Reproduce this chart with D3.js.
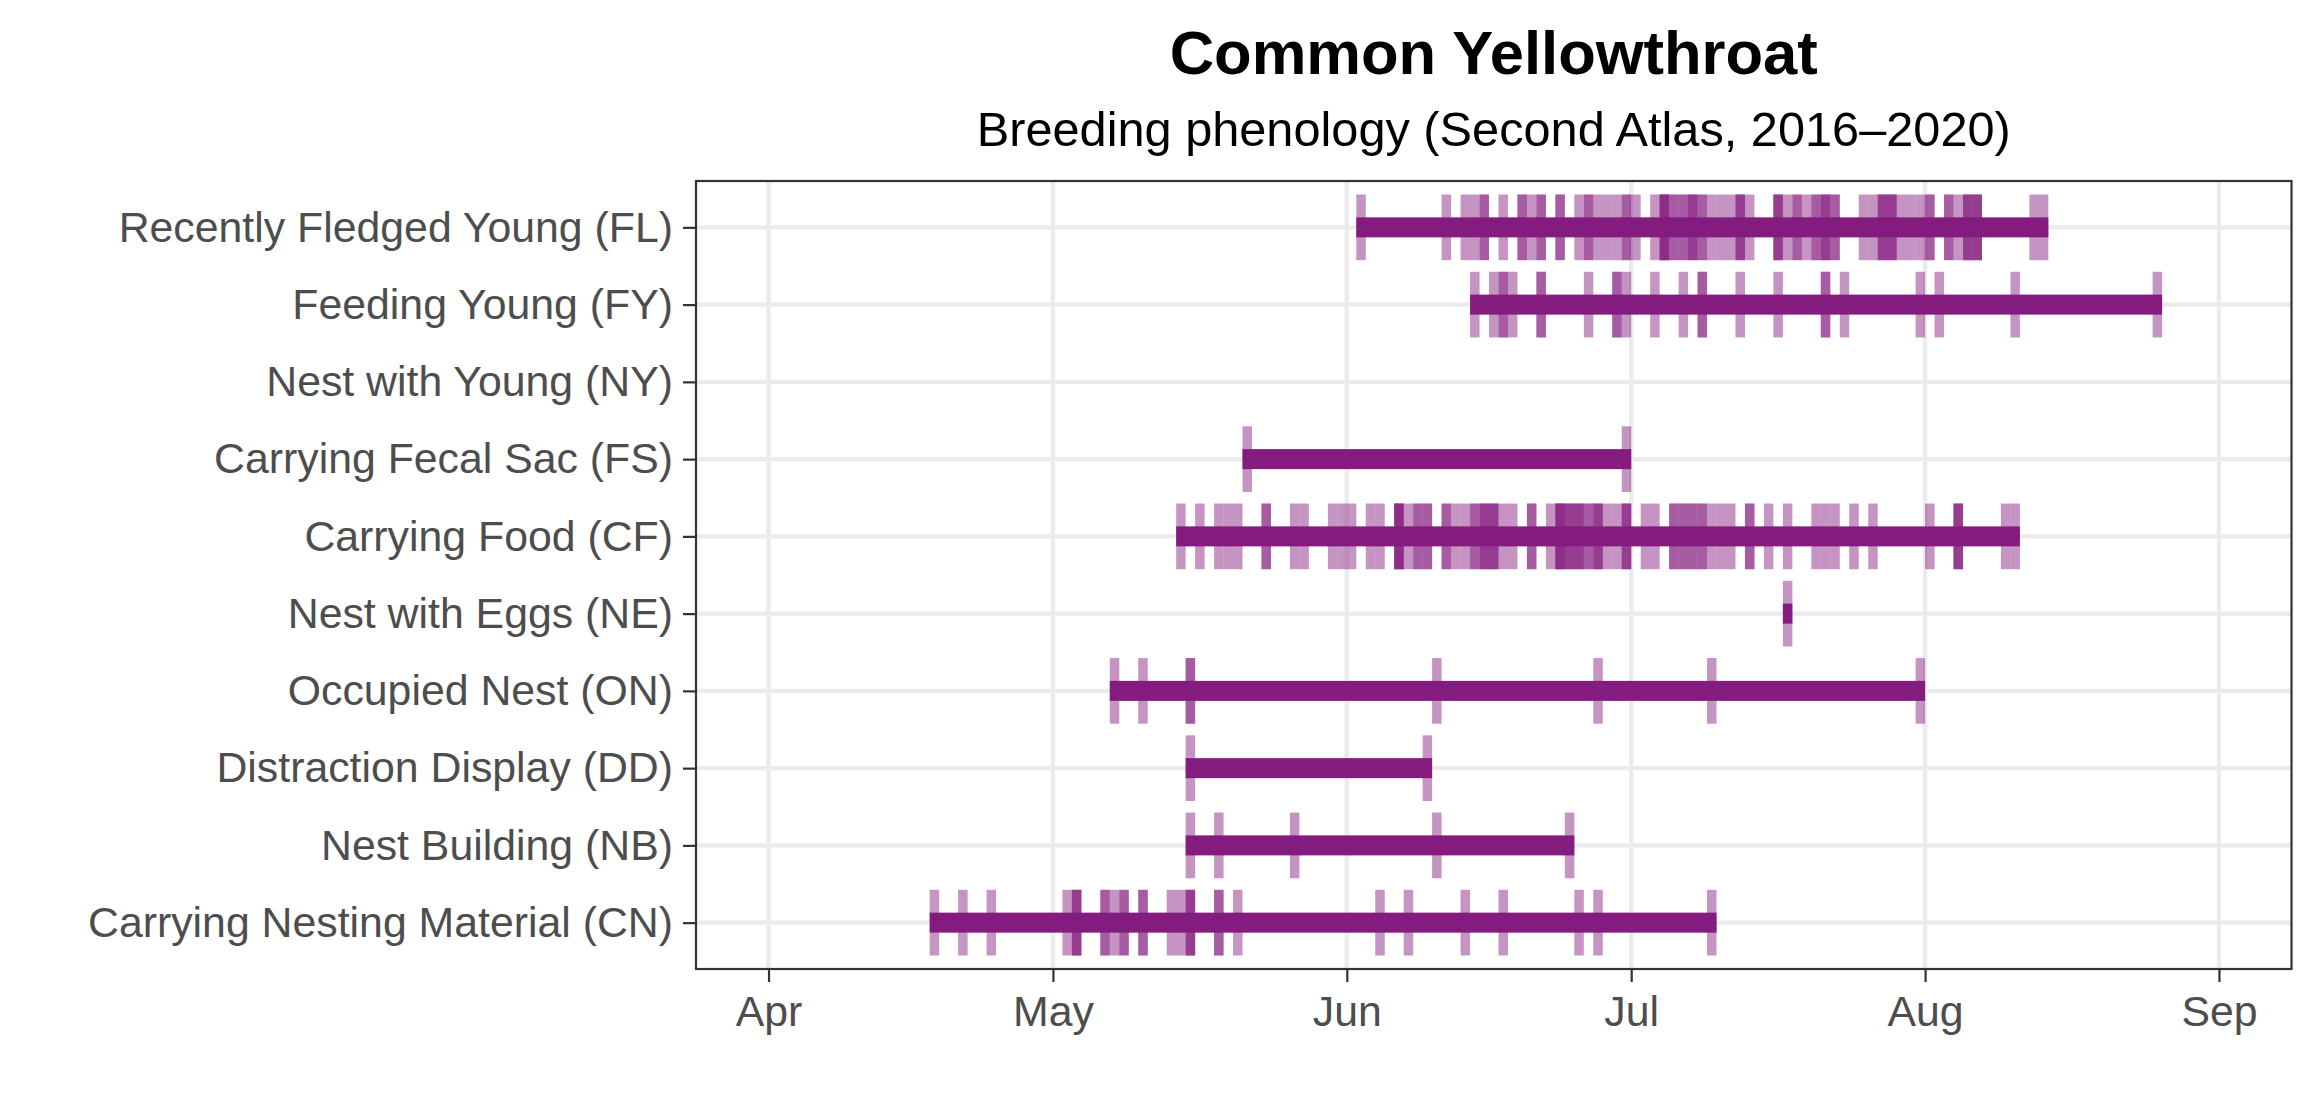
<!DOCTYPE html>
<html>
<head>
<meta charset="utf-8">
<script src="https://cdn.jsdelivr.net/npm/d3@7"></script>
<style>
  html, body { margin: 0; padding: 0; background: #ffffff; }
  svg { display: block; }
  text { font-family: "Liberation Sans", Arial, Helvetica, sans-serif; }
</style>
</head>
<body>
<svg id="chart" width="2320" height="1120"></svg>
<script>
// ---------------- DATA ----------------
const title = "Common Yellowthroat";
const subtitle = "Breeding phenology (Second Atlas, 2016–2020)";

const categories = [
  "Recently Fledged Young (FL)",
  "Feeding Young (FY)",
  "Nest with Young (NY)",
  "Carrying Fecal Sac (FS)",
  "Carrying Food (CF)",
  "Nest with Eggs (NE)",
  "Occupied Nest (ON)",
  "Distraction Display (DD)",
  "Nest Building (NB)",
  "Carrying Nesting Material (CN)"
];

// observation dates (MM-DD); a repeated date = several records on that day
const obsFL = ["06-02","06-11","06-13","06-14","06-15","06-15","06-17","06-19","06-19","06-20",
  "06-21","06-21","06-23","06-23","06-25","06-26","06-26","06-27","06-28","06-29","06-30","06-30",
  "07-01","07-03","07-04","07-04","07-04","07-04","07-05","07-05","07-06","07-06","07-07","07-07","07-07",
  "07-08","07-08","07-09","07-10","07-11","07-12","07-12","07-12","07-13","07-16","07-16","07-16",
  "07-17","07-18","07-18","07-19","07-20","07-20","07-21","07-21","07-21","07-22","07-22",
  "07-25","07-26","07-27","07-27","07-27","07-28","07-28","07-28","07-29","07-30","07-31",
  "08-01","08-01","08-03","08-03","08-04","08-05","08-05","08-05","08-06","08-06","08-06","08-12","08-13"];
const obsFY = ["06-14","06-16","06-17","06-17","06-18","06-21","06-21","06-26","06-29","06-29","06-30",
  "07-03","07-06","07-08","07-08","07-12","07-16","07-21","07-21","07-23","07-31","08-02","08-10","08-25"];
const obsNY = [];
const obsFS = ["05-21","06-30"];
const obsCF = ["05-14","05-16","05-18","05-19","05-20","05-23","05-23","05-26","05-27","05-30","05-31",
  "06-01","06-03","06-04","06-06","06-06","06-06","06-06","06-07","06-08","06-08","06-09","06-09",
  "06-11","06-11","06-12","06-13","06-14","06-14","06-15","06-15","06-15","06-16","06-16","06-16",
  "06-17","06-18","06-20","06-20","06-22","06-23","06-23","06-23","06-23","06-24","06-24","06-24",
  "06-25","06-25","06-25","06-26","06-26","06-27","06-27","06-27","06-28","06-29","06-30","06-30","06-30",
  "07-02","07-03","07-05","07-05","07-06","07-06","07-07","07-07","07-08","07-08","07-09","07-10","07-11",
  "07-13","07-13","07-15","07-17","07-20","07-21","07-22","07-24","07-26","08-01","08-04","08-04","08-04",
  "08-09","08-10"];
const obsNE = ["07-17"];
const obsON = ["05-07","05-10","05-15","05-15","06-10","06-27","07-09","07-31"];
const obsDD = ["05-15","06-09"];
const obsNB = ["05-15","05-18","05-26","06-10","06-24"];
const obsCN = ["04-18","04-21","04-24","05-02","05-03","05-03","05-03","05-06","05-06","05-07",
  "05-08","05-08","05-10","05-10","05-13","05-14","05-15","05-15","05-15","05-18","05-18","05-20",
  "06-04","06-07","06-13","06-17","06-25","06-27","07-09"];

const observations = [obsFL, obsFY, obsNY, obsFS, obsCF, obsNE, obsON, obsDD, obsNB, obsCN];

const monthTicks = ["04-01","05-01","06-01","07-01","08-01","09-01"];
const monthLabels = ["Apr","May","Jun","Jul","Aug","Sep"];

// ---------------- LAYOUT ----------------
const W = 2320, H = 1120;
const panel = { left: 696, right: 2291.5, top: 181, bottom: 969 };
const purple = "#841B7E";
const textGrey = "#4D4D4D";
const YEAR = 2021;
const parse = s => new Date(YEAR, +s.slice(0, 2) - 1, +s.slice(3, 5));
const DAY = 864e5;

const dMin = parse("04-01"), dMax = parse("09-01");
const expand = (dMax - dMin) * 0.05;
const x = d3.scaleTime()
  .domain([new Date(+dMin - expand), new Date(+dMax + expand)])
  .range([panel.left, panel.right]);

const y = d3.scalePoint()
  .domain(categories)
  .range([panel.top, panel.bottom])
  .padding(0.6);
const step = y.step();

const svg = d3.select("#chart");
svg.append("rect").attr("width", W).attr("height", H).attr("fill", "#ffffff");

// grid
const grid = svg.append("g");
grid.selectAll("line.v").data(monthTicks).join("line")
  .attr("x1", d => x(parse(d))).attr("x2", d => x(parse(d)))
  .attr("y1", panel.top).attr("y2", panel.bottom)
  .attr("stroke", "#EBEBEB").attr("stroke-width", 4.4);
grid.selectAll("line.h").data(categories).join("line")
  .attr("x1", panel.left).attr("x2", panel.right)
  .attr("y1", d => y(d)).attr("y2", d => y(d))
  .attr("stroke", "#EBEBEB").attr("stroke-width", 4.4);

// observation ticks
const tickH = step * 0.85;
const marks = svg.append("g");
categories.forEach((cat, i) => {
  const obs = observations[i];
  marks.append("g").selectAll("rect").data(obs).join("rect")
    .attr("x", d => x(parse(d)))
    .attr("width", d => x(new Date(+parse(d) + DAY)) - x(parse(d)))
    .attr("y", y(cat) - tickH / 2)
    .attr("height", tickH)
    .attr("fill", purple)
    .attr("fill-opacity", 0.47);
});

// range bars
const barH = 20;
categories.forEach((cat, i) => {
  const obs = observations[i];
  if (!obs.length) return;
  const ext = d3.extent(obs, parse);
  marks.append("rect")
    .attr("x", x(ext[0]))
    .attr("width", x(new Date(+ext[1] + DAY)) - x(ext[0]))
    .attr("y", y(cat) - barH / 2)
    .attr("height", barH)
    .attr("fill", purple);
});

// panel border
svg.append("rect")
  .attr("x", panel.left).attr("y", panel.top)
  .attr("width", panel.right - panel.left).attr("height", panel.bottom - panel.top)
  .attr("fill", "none").attr("stroke", "#333333").attr("stroke-width", 2.2);

// x axis
const xAxis = d3.axisBottom(x)
  .tickValues(monthTicks.map(parse))
  .tickFormat((d, i) => monthLabels[i])
  .tickSize(13).tickPadding(14);
const gx = svg.append("g").attr("transform", `translate(0,${panel.bottom})`).call(xAxis);
gx.select(".domain").remove();
gx.selectAll(".tick line").attr("stroke", "#333333").attr("stroke-width", 2.2);
gx.selectAll(".tick text").attr("fill", textGrey).attr("font-size", 42.8)
  .attr("font-family", "'Liberation Sans', Arial, sans-serif");

// y axis
const yAxis = d3.axisLeft(y).tickSize(13).tickPadding(10);
const gy = svg.append("g").attr("transform", `translate(${panel.left},0)`).call(yAxis);
gy.select(".domain").remove();
gy.selectAll(".tick line").attr("stroke", "#333333").attr("stroke-width", 2.2);
gy.selectAll(".tick text").attr("fill", textGrey).attr("font-size", 42.8)
  .attr("font-family", "'Liberation Sans', Arial, sans-serif");

// titles
const cx = (panel.left + panel.right) / 2;
svg.append("text").attr("x", cx).attr("y", 74).attr("text-anchor", "middle")
  .attr("font-size", 61.5).attr("font-weight", "bold").attr("fill", "#000000").text(title);
svg.append("text").attr("x", cx).attr("y", 146).attr("text-anchor", "middle")
  .attr("font-size", 48.7).attr("fill", "#000000").text(subtitle);
</script>
</body>
</html>
